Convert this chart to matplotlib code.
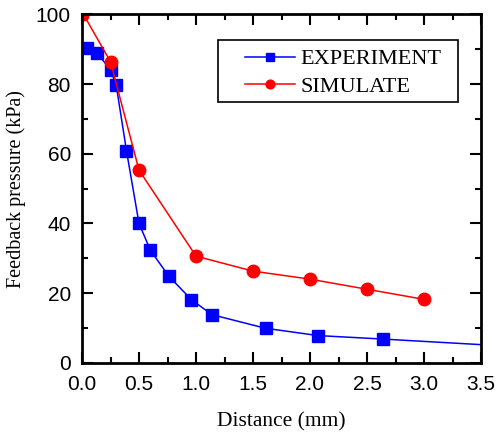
import numpy as np
import matplotlib
matplotlib.use('Agg')
import matplotlib.pyplot as plt
import matplotlib.patches as mpatches

plt.rcParams['font.family'] = 'Liberation Sans'

# experiment data (blue squares), last point is only the end of the line
exp_x = [0.04, 0.13, 0.25, 0.30, 0.39, 0.50, 0.60, 0.76, 0.96, 1.14, 1.61, 2.07, 2.64, 3.50]
exp_y = [90.4, 89.0, 84.1, 79.7, 60.9, 40.0, 32.3, 24.9, 18.1, 13.8, 9.9, 7.8, 6.8, 5.2]
exp_marked = 13

# simulation data (red circles)
sim_x = [0.02, 0.25, 0.50, 1.0, 1.5, 2.0, 2.5, 3.0]
sim_y = [99.6, 86.4, 55.3, 30.6, 26.3, 24.0, 21.1, 18.2]

fig = plt.figure(figsize=(5, 4.36), dpi=100)
ax = fig.add_axes([0.164, 0.168, 0.798, 0.799])

ax.plot(exp_x, exp_y, color='blue', lw=1.1, marker='s', ms=8,
        markevery=list(range(exp_marked)), label='EXPERIMENT')
ax.plot(sim_x, sim_y, color='red', lw=1.1, marker='o', ms=9,
        markevery=list(range(1, len(sim_x))), label='SIMULATE')
# the first simulated point sits on the frame corner, drawn small
ax.plot(sim_x[0], sim_y[0], 'o', color='red', ms=6)

ax.set_xlim(0, 3.5)
ax.set_ylim(0, 100)
ax.set_xticks(np.arange(0, 3.51, 0.5))
ax.set_xticks(np.arange(0.25, 3.5, 0.5), minor=True)
ax.set_yticks(np.arange(0, 101, 20))
ax.set_yticks(np.arange(10, 100, 20), minor=True)
ax.tick_params(which='both', direction='in', top=True, right=True, width=1.5,
               labelsize=15)
ax.tick_params(which='major', length=8)
ax.tick_params(which='minor', length=4.5)
ax.tick_params(axis='x', pad=9)
ax.tick_params(axis='y', pad=8)
for s in ax.spines.values():
    s.set_linewidth(2)

ax.set_xlabel('Distance (mm)', fontfamily='Liberation Serif', fontsize=15.5)
ax.set_ylabel('Feedback pressure (kPa)', fontfamily='Liberation Serif', fontsize=14.5)
ax.xaxis.set_label_coords(0.5, -0.141)
ax.yaxis.set_label_coords(-0.140, 0.5)

# legend frame drawn separately so the padding matches the original
ax.add_patch(mpatches.Rectangle((0.341, 0.748), 0.601, 0.178, transform=ax.transAxes,
                                fill=True, facecolor='white', edgecolor='black',
                                lw=1.2, zorder=5))
leg = ax.legend(loc='upper left', bbox_to_anchor=(0.4085, 0.901), frameon=False,
                prop={'family': 'Liberation Serif', 'size': 16},
                borderpad=0, borderaxespad=0, markerscale=0.7,
                handlelength=2.25, handletextpad=0.25, labelspacing=0.3)
leg.set_zorder(6)

fig.savefig('out.png', dpi=100)
